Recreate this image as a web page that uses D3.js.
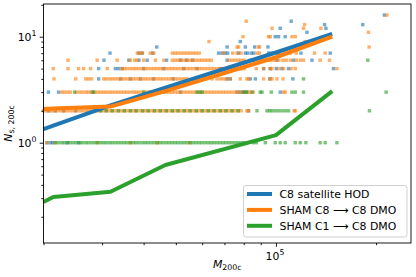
<!DOCTYPE html>
<html><head><meta charset="utf-8">
<script src="https://cdn.jsdelivr.net/npm/d3@7"></script>
<style>body{margin:0;background:#fff} text{font-family:"DejaVu Sans",sans-serif;fill:#000}</style>
</head><body><svg id="c" width="416" height="277"></svg>
<script>
// halo mass bins (units of 1e4)
const binMass = [2.0, 2.14, 3.18, 4.65, 10.0, 14.76];
const hodLine = [1.34, 1.45, 2.25, 3.3, 7.1, 10.6];
const c8Line  = [2.08, 2.10, 2.19, 3.07, 6.4, 10.0];
const c1Line  = [0.276, 0.307, 0.345, 0.616, 1.18, 3.07];
const seriesNames = ["C8 satellite HOD", "SHAM C8 \u27F6 C8 DMO", "SHAM C1 \u27F6 C8 DMO"];
const seriesColors = ["#1f77b4", "#ff7f0e", "#2ca02c"];
const yMajor = [1, 10];
const yMajorExp = ["0", "1"];
const xMajor = [1e5];
const xMajorExp = ["5"];

// individual haloes: [N_sat, [M (1e4) ...]]
const hodPts = [
 [1,[2.05,2.10,2.13,2.36,2.55]],
 [2,[2.07,2.17,2.30,2.50,8.27]],
 [3,[2.07,2.22,2.80,4.19,4.59,5.16,7.64,7.81,7.99,8.18,10.30]],
 [4,[2.93,3.41,3.65,3.91,4.28,4.91,7.13,7.29,8.37,8.67,9.57,11.24]],
 [5,[2.93,3.29,3.36,3.45,4.00,4.60,5.28,5.79,6.80,6.94,7.81,9.18,9.61,10.02,10.42,10.91,14.89]],
 [6,[3.04,3.61,3.87,4.10,4.69,5.16,5.38,5.61,7.13,8.47,8.57,9.40,10.07,11.29,12.83]],
 [7,[3.17,3.87,3.96,4.26,6.72,6.88,7.03,7.16,7.72,8.09,8.22,8.43,8.57,9.50,9.68,10.07,10.18,11.89,14.56]],
 [8,[4.38,7.13,8.09,8.63,9.46]],
 [9,[7.81]],
 [10,[9.95,10.18,10.66]],
 [11,[12.39]],
 [12,[10.30,14.13]],
 [13,[14.00,18.24]],
 [14,[11.11]],
 [16,[21.18]]
];
const c8Pts = [
 [1,[2.05,2.17,2.90,3.65,4.40,5.52]],
 [2,[2.00,2.04,2.09,2.13,2.17,2.22,2.27,2.31,2.36,2.41,2.46,2.51,2.57,2.62,2.68,2.73,2.79,2.85,2.91,2.97,3.03,3.09,3.16,3.22,3.29,3.36,3.43,3.50,3.57,3.65,3.73,3.80,3.88,3.97,4.05,4.13,4.22,4.31,4.40,4.49,4.58,4.68,4.78,4.88,4.98,5.08,5.19,5.30,5.41,5.52,5.64,5.76,5.88,6.00,6.13,6.26,6.39,6.52,6.66,6.80,6.94,7.08,7.23,7.38,7.54,7.70,7.86,8.18,8.27,11.35,11.43]],
 [3,[2.27,2.31,2.36,2.41,2.51,2.57,2.62,2.68,2.73,2.79,2.85,2.91,2.97,3.03,3.09,3.16,3.22,3.29,3.36,3.43,3.50,3.57,3.65,3.73,3.80,3.88,3.97,4.05,4.13,4.22,4.31,4.40,4.49,4.58,4.68,4.78,4.88,4.98,5.08,5.19,5.30,5.41,5.52,5.64,5.76,5.88,6.00,6.13,6.26,6.39,6.52,6.66,6.80,6.94,7.08,7.23,7.38,7.54,7.70,7.86,8.02,8.19,8.37,8.55,10.54,10.66]],
 [4,[2.15,2.50,2.68,2.73,2.79,3.03,3.09,3.16,3.22,3.29,3.36,3.43,3.50,3.57,3.65,3.73,3.80,3.88,3.97,4.05,4.13,4.22,4.31,4.40,4.49,4.58,4.68,4.78,4.88,4.98,5.08,5.19,5.30,5.41,5.66,5.86,6.13,6.42,6.65,6.80,6.94,7.09,7.29,7.81,8.18,8.27,9.18,9.61,9.73,10.07,10.50]],
 [5,[2.14,2.37,2.55,2.64,2.77,3.11,3.43,3.50,3.57,3.65,3.73,3.80,3.88,3.97,4.05,4.13,4.22,4.31,4.40,4.49,4.58,4.68,4.78,4.88,4.98,5.08,5.19,5.30,5.41,5.52,5.64,5.76,5.88,6.00,6.13,6.26,6.39,6.52,6.66,6.80,6.94,7.08,7.23,7.38,7.54,7.70,7.86,8.02,8.73,9.18,9.61,9.73,10.18,10.54,11.11,11.43,15.25]],
 [6,[2.37,2.90,3.33,3.65,3.76,3.82,4.00,4.34,4.60,4.88,4.98,5.08,5.19,5.30,5.41,5.52,5.64,5.76,5.88,6.00,6.13,6.26,6.39,7.23,7.38,7.54,7.70,7.86,8.02,8.37,8.87,8.97,9.18,9.40,9.57,9.73,9.95,10.20,10.50,10.74,11.04,11.51,11.83,12.10,13.58,14.49]],
 [7,[3.83,3.90,3.97,4.19,4.29,4.88,4.98,5.08,5.19,5.30,5.41,5.52,5.64,5.76,5.88,6.96,7.41,7.64,7.85,8.77,8.92,11.04,11.51,13.06,14.06]],
 [8,[7.64,7.72,8.87,8.92,19.06]],
 [9,[6.29,12.24]],
 [10,[7.96,9.50,9.61,11.17,11.43]],
 [11,[18.97]],
 [12,[9.73,12.10,13.65]],
 [13,[12.19]],
 [14,[8.14]],
 [16,[21.55]]
];
const c1Pts = [
 [1,[2.17,2.22,2.27,2.31,2.36,2.41,2.46,2.51,2.57,2.62,2.68,2.73,2.79,2.85,2.91,2.97,3.03,3.09,3.16,3.22,3.29,3.36,3.43,3.50,3.57,3.65,3.73,3.80,3.88,3.97,4.05,4.13,4.22,4.31,4.40,4.49,4.58,4.68,4.78,4.88,4.98,5.08,5.19,5.30,5.41,5.52,5.64,5.76,5.88,6.00,6.13,6.26,6.39,6.52,6.66,6.80,6.94,7.08,7.23,7.38,7.54,7.70,7.86,8.02,8.55,8.73,9.29,9.95,10.30,10.66,11.43,11.83,12.30,13.58,14.06,15.25]],
 [2,[2.97,3.09,3.22,3.36,3.50,3.65,3.80,3.97,4.13,4.31,4.49,4.68,4.88,5.08,5.30,5.52,5.76,6.00,6.26,6.52,6.80,7.08,7.38,7.70,8.77,9.40,9.57,9.73,9.95,10.18,10.42,10.66,10.91,19.10]],
 [3,[2.48,2.83,4.00,5.79,5.91,6.00,7.99,8.14,8.47,8.97,9.08,9.68,11.17,11.43,12.10,21.44]],
 [4,[12.10]],
 [6,[18.89]]
];

const svg = d3.select("#c");
const L = 43.5, R = 411, T = 4, B = 243;
const x = d3.scaleLog().domain([2.0e4, 2.547e5]).range([L, R]);
const y = d3.scaleLog().domain([0.1132, 20.35]).range([B, T]);

// scatter
const sq = 3.4;
[hodPts, c8Pts, c1Pts].forEach((rows, si) => {
  const pts = [];
  rows.forEach(([n, ms]) => ms.forEach(m => pts.push([m * 1e4, n])));
  svg.append("g").selectAll("rect").data(pts).join("rect")
    .attr("x", d => x(d[0]) - sq / 2).attr("y", d => y(d[1]) - sq / 2)
    .attr("width", sq).attr("height", sq)
    .attr("fill", seriesColors[si]).attr("fill-opacity", 0.62);
});

// lines
const line = d3.line().x(d => x(d[0] * 1e4)).y(d => y(d[1]));
[hodLine, c8Line, c1Line].forEach((vals, si) => {
  svg.append("path").datum(binMass.map((m, i) => [m, vals[i]]))
    .attr("d", line).attr("fill", "none").attr("stroke", seriesColors[si])
    .attr("stroke-width", 4).attr("stroke-linejoin", "round");
});

// axes
const yMinor = [0.2,0.3,0.4,0.5,0.6,0.7,0.8,0.9,2,3,4,5,6,7,8,9,20];
const xMinor = [2e4,3e4,4e4,5e4,6e4,7e4,8e4,9e4,2e5];
function styleAxis(g) {
  g.select(".domain").remove();
  g.selectAll("line").attr("stroke", "#000").attr("stroke-width", 0.9);
}
svg.append("g").attr("transform", `translate(0,${B})`)
  .call(d3.axisBottom(x).tickValues(xMajor).tickSize(3.8).tickFormat("")).call(styleAxis);
svg.append("g").attr("transform", `translate(0,${B})`)
  .call(d3.axisBottom(x).tickValues(xMinor).tickSize(2.2).tickFormat("")).call(styleAxis);
svg.append("g").attr("transform", `translate(${L},0)`)
  .call(d3.axisLeft(y).tickValues(yMajor).tickSize(3.8).tickFormat("")).call(styleAxis);
svg.append("g").attr("transform", `translate(${L},0)`)
  .call(d3.axisLeft(y).tickValues(yMinor.filter(v => v > 0.1132 && v < 20.35)).tickSize(2.2).tickFormat("")).call(styleAxis);

svg.append("rect").attr("x", L).attr("y", T).attr("width", R - L).attr("height", B - T)
  .attr("fill", "none").attr("stroke", "#000").attr("stroke-width", 0.9);

// tick labels
yMajor.forEach((v, i) => {
  const t = svg.append("text").attr("x", 36.5).attr("y", y(v) + 4).attr("text-anchor", "end").attr("font-size", 10.9);
  t.append("tspan").text("10");
  t.append("tspan").attr("dy", -4.6).attr("font-size", 7.8).text(yMajorExp[i]);
});
xMajor.forEach((v, i) => {
  const t = svg.append("text").attr("x", x(v) - 1).attr("y", 259.5).attr("text-anchor", "middle").attr("font-size", 10.9);
  t.append("tspan").text("10");
  t.append("tspan").attr("dy", -4.6).attr("font-size", 7.8).text(xMajorExp[i]);
});

// axis labels
const xl = svg.append("text").attr("x", (L + R) / 2).attr("y", 267.5).attr("text-anchor", "middle").attr("font-size", 10.9);
xl.append("tspan").attr("font-style", "italic").text("M");
xl.append("tspan").attr("dy", 2.5).attr("font-size", 7.8).text("200c");
const yl = svg.append("text").attr("transform", `translate(11.5,${(T + B) / 2}) rotate(-90)`).attr("text-anchor", "middle").attr("font-size", 10.9);
yl.append("tspan").attr("font-style", "italic").text("N");
yl.append("tspan").attr("dy", 2.5).attr("font-size", 7.8).text("s, 200c");

// legend
const lg = svg.append("g");
lg.append("rect").attr("x", 243.5).attr("y", 185.5).attr("width", 163.5).attr("height", 51.5)
  .attr("rx", 2.5).attr("fill", "#fff").attr("fill-opacity", 0.8).attr("stroke", "#cccccc").attr("stroke-width", 0.9);
seriesNames.forEach((name, i) => {
  const cy = 194 + i * 15.9;
  lg.append("line").attr("x1", 247).attr("x2", 272).attr("y1", cy).attr("y2", cy)
    .attr("stroke", seriesColors[i]).attr("stroke-width", 4);
  lg.append("text").attr("x", 279.5).attr("y", cy + 4).attr("font-size", 10.9).text(name);
});
</script></body></html>
